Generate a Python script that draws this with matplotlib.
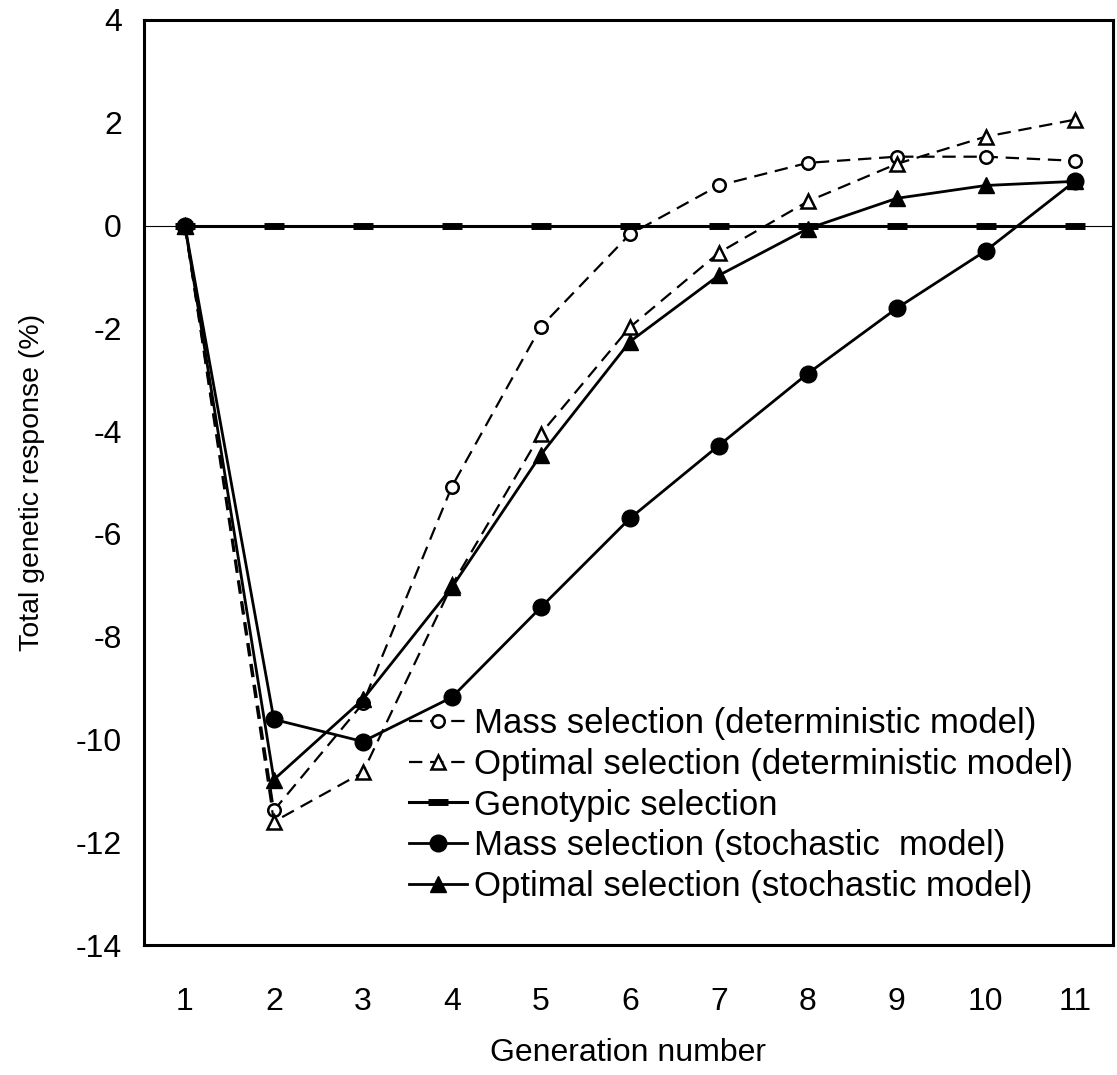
import matplotlib
matplotlib.use("Agg")
import matplotlib.pyplot as plt

# ---- data ----
generation = [1, 2, 3, 4, 5, 6, 7, 8, 9, 10, 11]
mass_det = [0, -11.38, -9.3, -5.08, -1.97, -0.17, 0.78, 1.22, 1.34, 1.34, 1.26]
optimal_det = [0, -11.6, -10.64, -7.0, -4.05, -1.98, -0.53, 0.47, 1.2, 1.73, 2.06]
genotypic = [0, 0, 0, 0, 0, 0, 0, 0, 0, 0, 0]
mass_stoch = [0, -9.61, -10.04, -9.18, -7.43, -5.7, -4.28, -2.88, -1.61, -0.49, 0.86]
optimal_stoch = [0, -10.78, -9.22, -7.04, -4.46, -2.26, -0.97, -0.06, 0.53, 0.78, 0.86]

yticks = [-14, -12, -10, -8, -6, -4, -2, 0, 2, 4]

plt.rcParams['font.family'] = ['Liberation Sans', 'DejaVu Sans']
plt.rcParams['axes.unicode_minus'] = False

fig = plt.figure(figsize=(11.17, 10.75), dpi=100)
ax = fig.add_axes([0.1289, 0.1209, 0.8675, 0.8605])

# thin zero line across the whole plot area
ax.axhline(0, color='black', lw=0.8, zorder=1)

dash = (0, (6, 3.5))
ax.plot(generation, mass_det, color='black', lw=1.6, ls=dash, marker='o',
        ms=9, mfc='white', mec='black', mew=1.8,
        label='Mass selection (deterministic model)', zorder=3)
ax.plot(generation, optimal_det, color='black', lw=1.6, ls=dash, marker='^',
        ms=10, mfc='white', mec='black', mew=1.8,
        label='Optimal selection (deterministic model)', zorder=3)
ax.plot(generation, genotypic, color='black', lw=2.2, marker='_',
        ms=14, mew=5, label='Genotypic selection', zorder=3)
ax.plot(generation, mass_stoch, color='black', lw=2.0, marker='o',
        ms=12, label='Mass selection (stochastic  model)', zorder=4)
ax.plot(generation, optimal_stoch, color='black', lw=2.0, marker='^',
        ms=12, label='Optimal selection (stochastic model)', zorder=4)

ax.set_xlim(0.54, 11.43)
ax.set_ylim(-14, 4)
ax.set_xticks(generation)
ax.set_yticks(yticks)
ax.tick_params(axis='both', length=0, labelsize=23)
ax.tick_params(axis='x', pad=30)
ax.tick_params(axis='y', pad=16)
for s in ax.spines.values():
    s.set_linewidth(2.2)

ax.set_xlabel('Generation number', fontsize=23, labelpad=15)
ax.set_ylabel('Total genetic response (%)', fontsize=20.5, labelpad=22)

ax.legend(loc='upper left', bbox_to_anchor=(0.274, 0.257), frameon=False,
          fontsize=25, handlelength=1.65, handletextpad=0.2,
          labelspacing=0.22, borderaxespad=0, borderpad=0)

fig.savefig('out.png', dpi=100)
